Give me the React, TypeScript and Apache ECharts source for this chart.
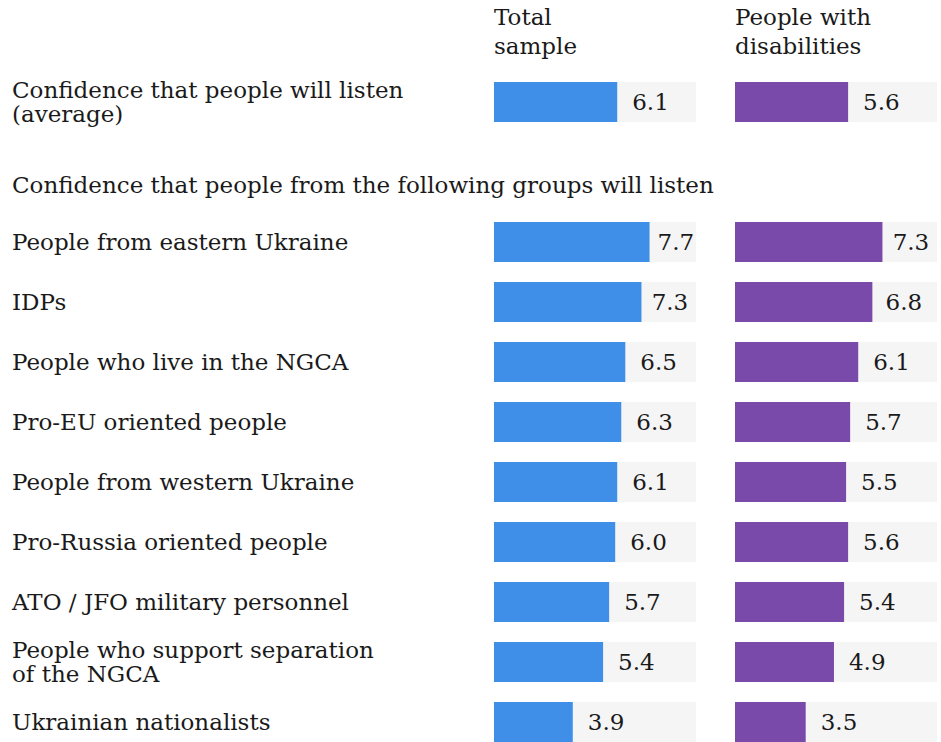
import React, { useEffect, useRef } from "react";
import * as echarts from "echarts";

const topCategory = ["Confidence that people will listen\n(average)"];
const topTotal = [6.1];
const topDisab = [5.6];

const groupCategories = [
  "People from eastern Ukraine",
  "IDPs",
  "People who live in the NGCA",
  "Pro-EU oriented people",
  "People from western Ukraine",
  "Pro-Russia oriented people",
  "ATO / JFO military personnel",
  "People who support separation\nof the NGCA",
  "Ukrainian nationalists",
];
const groupTotal = [7.7, 7.3, 6.5, 6.3, 6.1, 6.0, 5.7, 5.4, 3.9];
const groupDisab = [7.3, 6.8, 6.1, 5.7, 5.5, 5.6, 5.4, 4.9, 3.5];

const headerTotal = "Total\nsample";
const headerDisab = "People with\ndisabilities";
const sectionTitle = "Confidence that people from the following groups will listen";

const FONT = "DejaVu Serif";
const TEXT = "#1a1a1a";
const BLUE = "#3f8fe9";
const PURPLE = "#7a4aab";
const BG = "#f5f5f5";

// label gap shrinks for long bars so the value stays inside the grey track
const labelGap = (v: number) => Math.max(8, Math.min(15, 15 - (v - 6.5) * 6));

export default function App() {
  const ref = useRef<HTMLDivElement>(null);
  useEffect(() => {
    if (!ref.current) return;
    const chart = echarts.init(ref.current, undefined, { renderer: "svg" });
    const grids = [
      { left: 494, width: 202, top: 82, height: 40, outerBoundsMode: "none", containLabel: false },
      { left: 735, width: 202, top: 82, height: 40, outerBoundsMode: "none", containLabel: false },
      { left: 494, width: 202, top: 212, height: 540, outerBoundsMode: "none", containLabel: false },
      { left: 735, width: 202, top: 212, height: 540, outerBoundsMode: "none", containLabel: false },
    ];
    const cats = [topCategory, topCategory, groupCategories, groupCategories];
    const datas = [topTotal, topDisab, groupTotal, groupDisab];
    const colors = [BLUE, PURPLE, BLUE, PURPLE];
    const option: any = {
      animation: false,
      grid: grids,
      xAxis: grids.map((_, i) => ({
        type: "value",
        gridIndex: i,
        min: 0,
        max: 10,
        show: false,
      })),
      yAxis: grids.map((_, i) => ({
        type: "category",
        gridIndex: i,
        data: cats[i],
        inverse: true,
        axisLine: { show: false },
        axisTick: { show: false },
        splitLine: { show: false },
        axisLabel: {
          show: i % 2 === 0,
          margin: 482,
          align: "left",
          fontFamily: FONT,
          fontSize: 23,
          lineHeight: 24,
          color: TEXT,
        },
      })),
      series: grids.map((_, i) => ({
        type: "bar",
        xAxisIndex: i,
        yAxisIndex: i,
        data: datas[i].map((v) => ({ value: v, label: { distance: labelGap(v) } })),
        barWidth: 40,
        itemStyle: { color: colors[i] },
        showBackground: true,
        backgroundStyle: { color: BG },
        label: {
          show: true,
          position: "right",
          distance: 15,
          formatter: (p: any) => Number(p.value).toFixed(1),
          fontFamily: FONT,
          fontSize: 23,
          color: TEXT,
        },
      })),
      graphic: [
        {
          type: "text",
          left: 494,
          top: 2,
          style: { text: headerTotal, font: `23px "${FONT}"`, lineHeight: 29, fill: TEXT },
        },
        {
          type: "text",
          left: 735,
          top: 2,
          style: { text: headerDisab, font: `23px "${FONT}"`, lineHeight: 29, fill: TEXT },
        },
        {
          type: "text",
          left: 12,
          top: 173,
          style: { text: sectionTitle, font: `23px "${FONT}"`, fill: TEXT },
        },
      ],
    };
    chart.setOption(option);
    return () => chart.dispose();
  }, []);
  return (
    <div
      ref={ref}
      style={{ position: "absolute", left: 0, top: 0, width: 941, height: 742, background: "#fff" }}
    />
  );
}
